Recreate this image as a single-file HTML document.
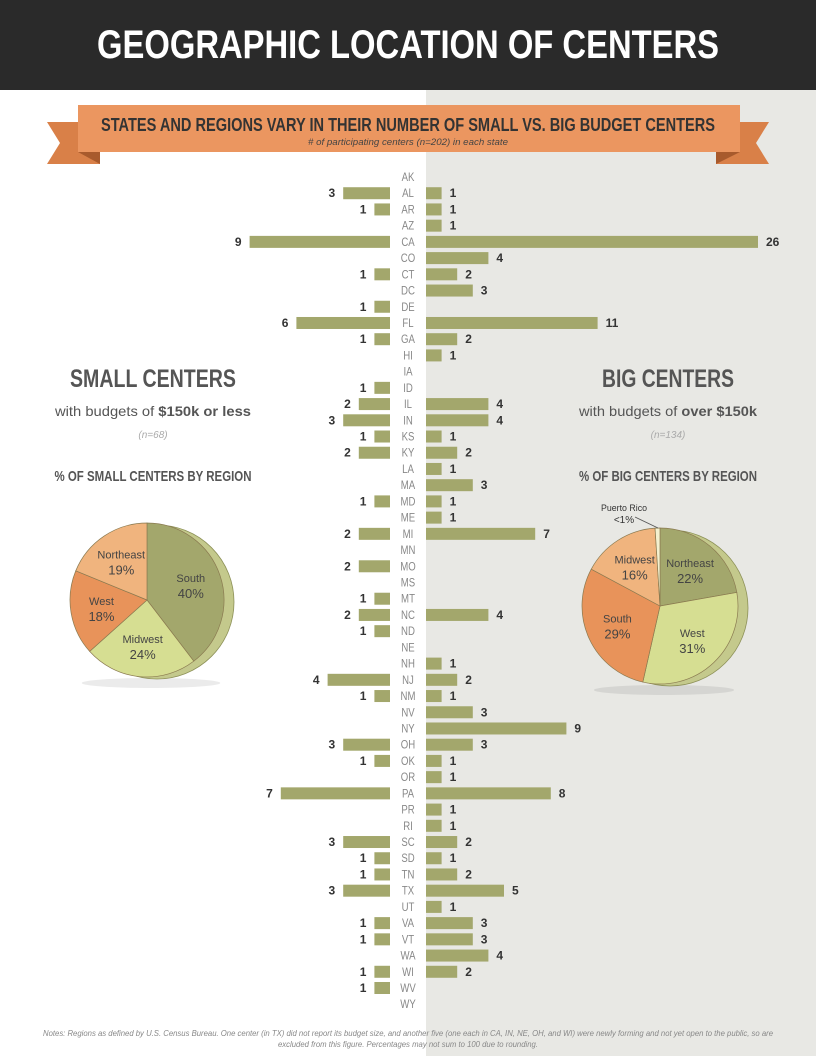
<!DOCTYPE html>
<html><head><meta charset="utf-8"><style>
html,body{margin:0;padding:0;width:816px;height:1056px;overflow:hidden;background:#fff}
svg{display:block}
text{font-family:"Liberation Sans Narrow","Liberation Sans",sans-serif}
</style></head><body>
<svg id="chart" width="816" height="1056" viewBox="0 0 816 1056">
<rect x="426" y="90" width="390" height="966" fill="#e8e8e4"/>
<rect x="0" y="0" width="816" height="90" fill="#2a2a2a"/>
<text x="408" y="58" text-anchor="middle" fill="#fff" font-size="40" font-weight="bold" textLength="622" lengthAdjust="spacingAndGlyphs">GEOGRAPHIC LOCATION OF CENTERS</text>
<g>
<polygon points="47,122 100,122 100,164 47,164 60,143" fill="#d98048"/>
<polygon points="716,122 769,122 756,143 769,164 716,164" fill="#d98048"/>
<polygon points="78,152 100,164 100,152" fill="#a85a2c"/>
<polygon points="740,152 716,164 716,152" fill="#a85a2c"/>
<rect x="78" y="105" width="662" height="47" fill="#eb9660"/>
<text x="408" y="131" text-anchor="middle" fill="#333" font-size="18" font-weight="bold" textLength="614" lengthAdjust="spacingAndGlyphs">STATES AND REGIONS VARY IN THEIR NUMBER OF SMALL VS. BIG BUDGET CENTERS</text>
<text x="408" y="145" text-anchor="middle" fill="#444" font-size="9" font-style="italic" textLength="200" lengthAdjust="spacingAndGlyphs"># of participating centers (n=202) in each state</text>
</g>
<g id="bars"></g>

<g>
<text x="153" y="387" text-anchor="middle" fill="#555" font-size="25" font-weight="bold" textLength="166" lengthAdjust="spacingAndGlyphs">SMALL CENTERS</text>
<text x="153" y="416" text-anchor="middle" fill="#555" font-size="14" font-family="Liberation Sans" textLength="196" lengthAdjust="spacingAndGlyphs">with budgets of <tspan font-weight="bold">$150k or less</tspan></text>
<text x="153" y="438" text-anchor="middle" fill="#aaa" font-size="10" font-style="italic">(n=68)</text>
<text x="153" y="481" text-anchor="middle" fill="#555" font-size="15" font-weight="bold" textLength="197" lengthAdjust="spacingAndGlyphs">% OF SMALL CENTERS BY REGION</text>
<g id="pieSmall"></g>
</g>
<g>
<text x="668" y="387" text-anchor="middle" fill="#555" font-size="25" font-weight="bold" textLength="132" lengthAdjust="spacingAndGlyphs">BIG CENTERS</text>
<text x="668" y="416" text-anchor="middle" fill="#555" font-size="14" font-family="Liberation Sans" textLength="178" lengthAdjust="spacingAndGlyphs">with budgets of <tspan font-weight="bold">over $150k</tspan></text>
<text x="668" y="438" text-anchor="middle" fill="#aaa" font-size="10" font-style="italic">(n=134)</text>
<text x="668" y="481" text-anchor="middle" fill="#555" font-size="15" font-weight="bold" textLength="178" lengthAdjust="spacingAndGlyphs">% OF BIG CENTERS BY REGION</text>
<g id="pieBig"></g>
<text x="624" y="511" text-anchor="middle" fill="#333" font-size="9" textLength="46" lengthAdjust="spacingAndGlyphs">Puerto Rico</text>
<text x="624" y="523" text-anchor="middle" fill="#333" font-size="10">&lt;1%</text>
<line x1="635" y1="517" x2="658" y2="528" stroke="#555" stroke-width="0.8"/>
</g>
<g>
<text x="408" y="1036" text-anchor="middle" fill="#888" font-size="8" font-style="italic" textLength="730" lengthAdjust="spacingAndGlyphs">Notes: Regions as defined by U.S. Census Bureau. One center (in TX) did not report its budget size, and another five (one each in CA, IN, NE, OH, and WI) were newly forming and not yet open to the public, so are</text>
<text x="408" y="1047" text-anchor="middle" fill="#888" font-size="8" font-style="italic" textLength="260" lengthAdjust="spacingAndGlyphs">excluded from this figure. Percentages may not sum to 100 due to rounding.</text>
</g>
</svg>
<script>
const states = ["AK","AL","AR","AZ","CA","CO","CT","DC","DE","FL","GA","HI","IA","ID","IL","IN","KS","KY","LA","MA","MD","ME","MI","MN","MO","MS","MT","NC","ND","NE","NH","NJ","NM","NV","NY","OH","OK","OR","PA","PR","RI","SC","SD","TN","TX","UT","VA","VT","WA","WI","WV","WY"];
const smallCounts = [0,3,1,0,9,0,1,0,1,6,1,0,0,1,2,3,1,2,0,0,1,0,2,0,2,0,1,2,1,0,0,4,1,0,0,3,1,0,7,0,0,3,1,1,3,0,1,1,0,1,1,0];
const bigCounts = [0,1,1,1,26,4,2,3,0,11,2,1,0,0,4,4,1,2,1,3,1,1,7,0,0,0,0,4,0,0,1,2,1,3,9,3,1,1,8,1,1,2,1,2,5,1,3,3,4,2,0,0];
const smallRegions = ["South","Midwest","West","Northeast"];
const smallPct = [40,24,18,19];
const bigRegions = ["Northeast","West","South","Midwest","Puerto Rico"];
const bigPct = [22,31,29,16,1];

const NS="http://www.w3.org/2000/svg";
function mk(tag,attrs,parent){const e=document.createElementNS(NS,tag);for(const k in attrs)e.setAttribute(k,attrs[k]);parent.appendChild(e);return e;}
const rowY=i=>177+i*16.22;
const unit=15.6, maxW=332;
const wOf=v=>Math.min(v*unit,maxW);
const g=document.getElementById('bars');
states.forEach((s,i)=>{
  const y=rowY(i);
  const t=mk('text',{x:408,y:y+4,'text-anchor':'middle',fill:'#888','font-size':12},g);
  
  
  t.textContent=s;
  const nat=t.getComputedTextLength();
  if(nat>0){
    t.setAttribute('textLength',(nat*0.8).toFixed(1));
    t.setAttribute('lengthAdjust','spacingAndGlyphs');
  }
  const sv=smallCounts[i];
  if(sv>0){
    const w=wOf(sv);
    const r=mk('rect',{x:390-w,y:y-6,width:w,height:12,fill:'#a3a76c'},g);
    
    
    const l=mk('text',{x:390-w-8,y:y+4,'text-anchor':'end',fill:'#333','font-size':12,'font-weight':'bold'},g);
    
    
    l.textContent=sv;
  }
  const bv=bigCounts[i];
  if(bv>0){
    const w=wOf(bv);
    const r=mk('rect',{x:426,y:y-6,width:w,height:12,fill:'#a3a76c'},g);
    
    
    const l=mk('text',{x:426+w+8,y:y+4,'text-anchor':'start',fill:'#333','font-size':12,'font-weight':'bold'},g);
    
    
    l.textContent=bv;
  }
});

function pie(id,cx,cy,r,labels,vals,colors,showLabel){
  const p=document.getElementById(id);
  const sh=mk('ellipse',{cx:cx+4,cy:cy+r+6,rx:r*0.9,ry:5,fill:'#000',opacity:0.08},p);
  
  
  const back=mk('ellipse',{cx:cx+10,cy:cy+2,rx:r,ry:r,fill:'#c4c98c',stroke:'#8d9158','stroke-width':0.8},p);
  
  
  const tot=vals.reduce((a,b)=>a+b,0);
  let a0=0;
  vals.forEach((v,i)=>{
    const a1=a0+v/tot*Math.PI*2;
    const x0=cx+r*Math.sin(a0),y0=cy-r*Math.cos(a0),x1=cx+r*Math.sin(a1),y1=cy-r*Math.cos(a1);
    const large=(a1-a0)>Math.PI?1:0;
    const path=mk('path',{d:`M${cx},${cy}L${x0},${y0}A${r},${r} 0 ${large} 1 ${x1},${y1}Z`,fill:colors[i],stroke:'#8a7a50','stroke-width':0.7},p);
    
    
    if(showLabel[i]){
      const am=(a0+a1)/2, lr=r*0.6;
      const lx=cx+lr*Math.sin(am), ly=cy-lr*Math.cos(am);
      const t1=mk('text',{x:lx,y:ly-3,'text-anchor':'middle',fill:'#444','font-size':11},p);
      
      
      t1.textContent=labels[i];
      const t2=mk('text',{x:lx,y:ly+13,'text-anchor':'middle',fill:'#444','font-size':13},p);
      
      
      t2.textContent=vals[i]+'%';
    }
    a0=a1;
  });
}
pie('pieSmall',147,600,77,smallRegions,smallPct,['#a3a76c','#d6de92','#e8935a','#f0b47e'],[1,1,1,1]);
pie('pieBig',660,606,78,bigRegions,bigPct,['#a3a76c','#d6de92','#e8935a','#f0b47e','#f4f1d0'],[1,1,1,1,0]);
</script>
</body></html>
